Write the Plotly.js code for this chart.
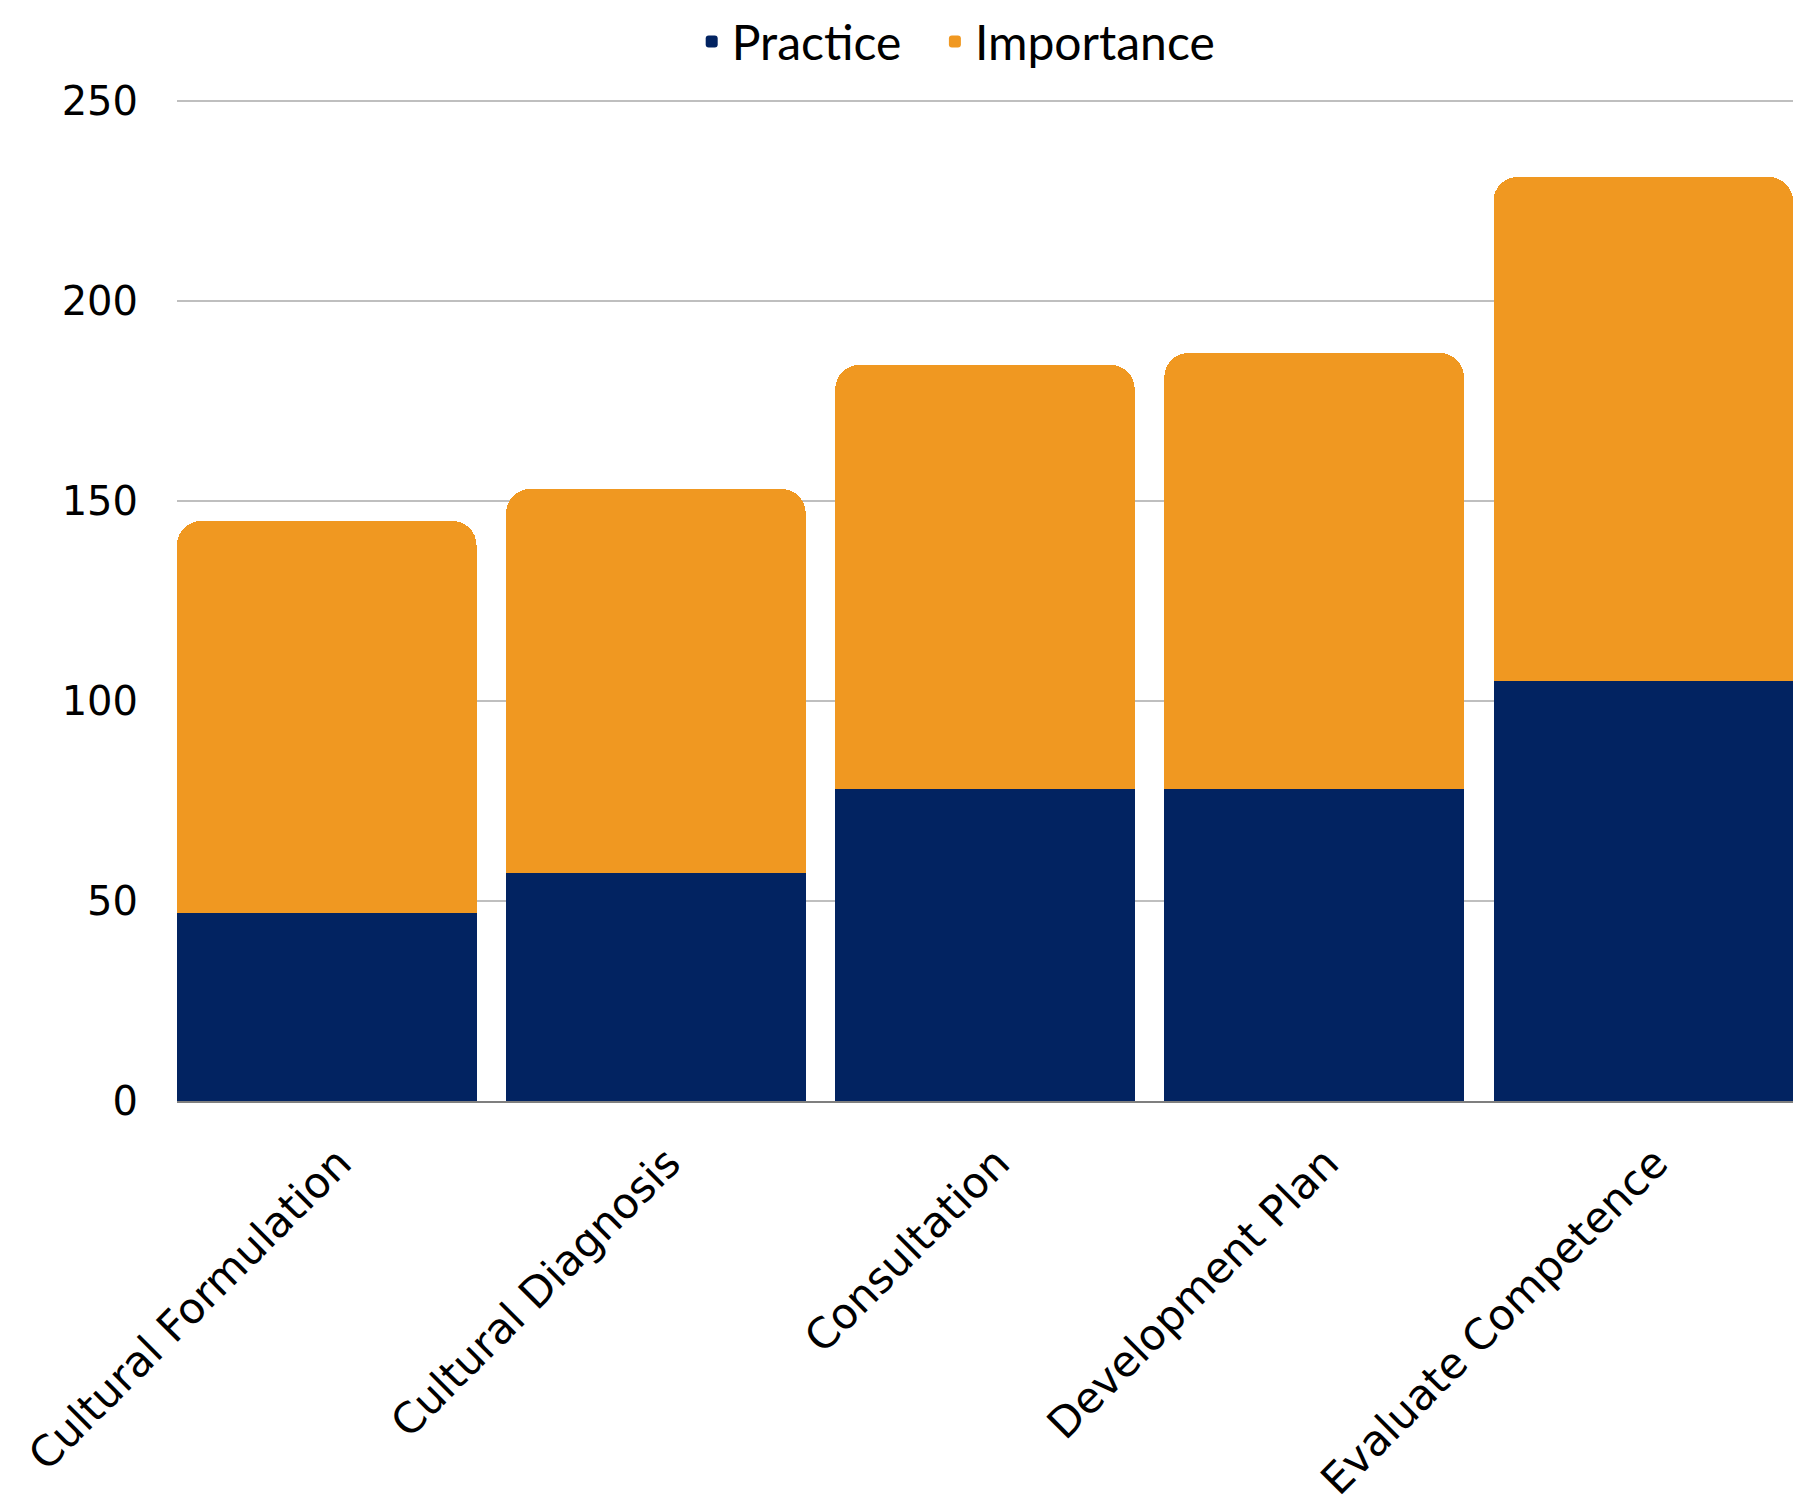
<!DOCTYPE html>
<html>
<head>
<meta charset="utf-8">
<script src="https://cdn.plot.ly/plotly-3.0.1.min.js"></script>
<style>
  html, body { margin: 0; padding: 0; background: #ffffff; }
  #chart { width: 1806px; height: 1503px; }
</style>
</head>
<body>
<div id="chart"></div>
<script>
const categories = ["Cultural Formulation", "Cultural Diagnosis", "Consultation", "Development Plan", "Evaluate Competence"];
const practice = [47, 57, 78, 78, 105];
const importance = [98, 96, 106, 109, 126];
const seriesNames = ["Practice", "Importance"];
const yTicks = [0, 50, 100, 150, 200, 250];

const navy = "#022361";
const orange = "#F09821";

const traces = [
  {
    type: "bar",
    name: seriesNames[0],
    x: categories,
    y: practice,
    legend: "legend",
    marker: { color: navy, line: { width: 0 } },
    hoverinfo: "x+y+name"
  },
  {
    type: "bar",
    name: seriesNames[1],
    x: categories,
    y: importance,
    legend: "legend2",
    marker: { color: orange, line: { width: 0 } },
    hoverinfo: "x+y+name"
  }
];

const legendFont = { family: "Lato, 'Noto Sans', sans-serif", size: 48, color: "#000000" };

const layout = {
  width: 1806,
  height: 1503,
  paper_bgcolor: "#ffffff",
  plot_bgcolor: "#ffffff",
  margin: { l: 177, r: 13, t: 99, b: 402, autoexpand: false },
  barmode: "stack",
  bargap: 0.09,
  barcornerradius: 24,
  showlegend: true,
  legend: {
    orientation: "h",
    x: 0.3185,
    xanchor: "left",
    y: 1.057,
    yanchor: "middle",
    font: legendFont,
    itemclick: false
  },
  legend2: {
    orientation: "h",
    x: 0.469,
    xanchor: "left",
    y: 1.057,
    yanchor: "middle",
    font: legendFont,
    itemclick: false
  },
  xaxis: {
    type: "category",
    range: [-0.455, 4.455],
    tickangle: -45,
    tickfont: { family: "'DejaVu Sans', sans-serif", size: 42.5, color: "#000000" },
    ticks: "",
    ticklabelstandoff: 18,
    ticklabelshift: 12,
    showgrid: false,
    showline: true,
    linecolor: "#7f7f7f",
    linewidth: 2,
    zeroline: false,
    fixedrange: true
  },
  yaxis: {
    range: [0, 250.5],
    tickvals: yTicks,
    ticktext: yTicks.map(String),
    tickfont: { family: "'DejaVu Sans', sans-serif", size: 40, color: "#000000" },
    ticks: "",
    ticklabelstandoff: 38,
    showgrid: true,
    gridcolor: "#bfbfbf",
    gridwidth: 1.5,
    zeroline: false,
    showline: false,
    fixedrange: true
  }
};

Plotly.newPlot("chart", traces, layout, { displayModeBar: false, staticPlot: true });
</script>
</body>
</html>
